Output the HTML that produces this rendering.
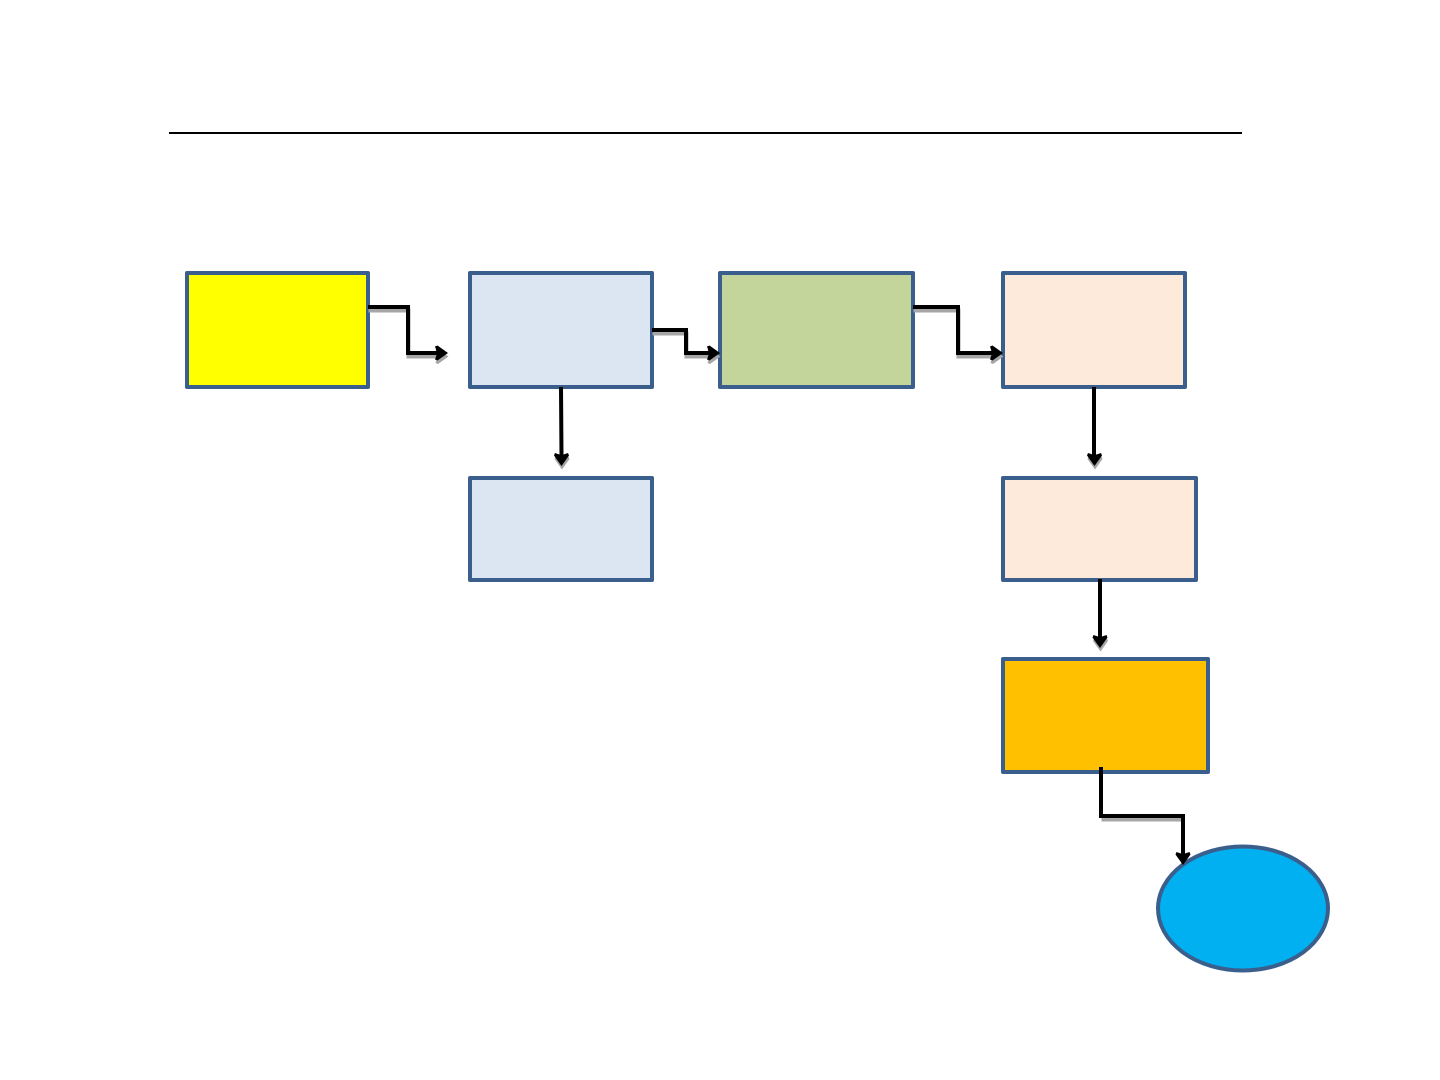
<!DOCTYPE html>
<html>
<head>
<meta charset="utf-8">
<style>
html,body{margin:0;padding:0;background:#fff;width:1440px;height:1080px;overflow:hidden}
svg{display:block}
</style>
</head>
<body>
<svg width="1440" height="1080" viewBox="0 0 1440 1080" xmlns="http://www.w3.org/2000/svg">
<defs>
<path id="h" d="M0 0 L-10.500 -7.500 L-13 -6.500 L-11.500 -2 L-11.500 2 L-13 6.500 L-10.500 7.500 Z"/>
<path id="v" d="M0 0 L-7.500 -10.500 L-6.500 -13 L-2 -11.500 L2 -11.500 L6.500 -13 L7.500 -10.500 Z"/>
</defs>
<rect width="1440" height="1080" fill="#fff"/>
<line x1="169" y1="133" x2="1242" y2="133" stroke="#000" stroke-width="2"/>

<g stroke="#3a5f8d" stroke-width="4" stroke-linejoin="round">
<rect x="187" y="273" width="181" height="114" fill="#ffff00"/>
<rect x="470" y="273" width="182" height="114" fill="#dce6f2"/>
<rect x="720" y="273" width="193" height="114" fill="#c4d59b"/>
<rect x="1003" y="273" width="182" height="114" fill="#fdeadb"/>
<rect x="470" y="478" width="182" height="102" fill="#dce6f2"/>
<rect x="1003" y="478" width="193" height="102" fill="#fdeadb"/>
<rect x="1003" y="659" width="205" height="113" fill="#ffc000"/>
<ellipse cx="1243" cy="908.500" rx="85" ry="62" fill="#00b0f0"/>
</g>

<!-- connector shadows -->
<g transform="translate(0.500 3.500)">
<g fill="none" stroke="#a6a6a6" stroke-width="4" stroke-linejoin="miter">
<path d="M368 307 H408 V353 H438"/>
<path d="M652 330 H686 V353 H710"/>
<path d="M913 307 H958 V353 H993"/>
<path d="M1101 816 H1183"/>
</g>
<g fill="#a6a6a6">
<use href="#h" x="448" y="353"/>
<use href="#h" x="720" y="353"/>
<use href="#h" x="1003" y="353"/>
<use href="#v" x="561.500" y="466"/>
<use href="#v" x="1094.500" y="466"/>
<use href="#v" x="1100" y="648"/>
</g>
</g>

<!-- connectors -->
<g fill="none" stroke="#000" stroke-width="4" stroke-linejoin="miter">
<path d="M368 307 H408 V353 H438"/>
<path d="M652 330 H686 V353 H710"/>
<path d="M913 307 H958 V353 H993"/>
<path d="M561 387 L561.500 456"/>
<path d="M1094 387 V456"/>
<path d="M1100 579 V638"/>
<path d="M1101 767 V816 H1183 V855"/>
</g>
<g fill="#000">
<use href="#h" x="448" y="353"/>
<use href="#h" x="720" y="353"/>
<use href="#h" x="1003" y="353"/>
<use href="#v" x="561.500" y="466"/>
<use href="#v" x="1094.500" y="466"/>
<use href="#v" x="1100" y="648"/>
<use href="#v" x="1183" y="865"/>
</g>
</svg>
</body>
</html>
